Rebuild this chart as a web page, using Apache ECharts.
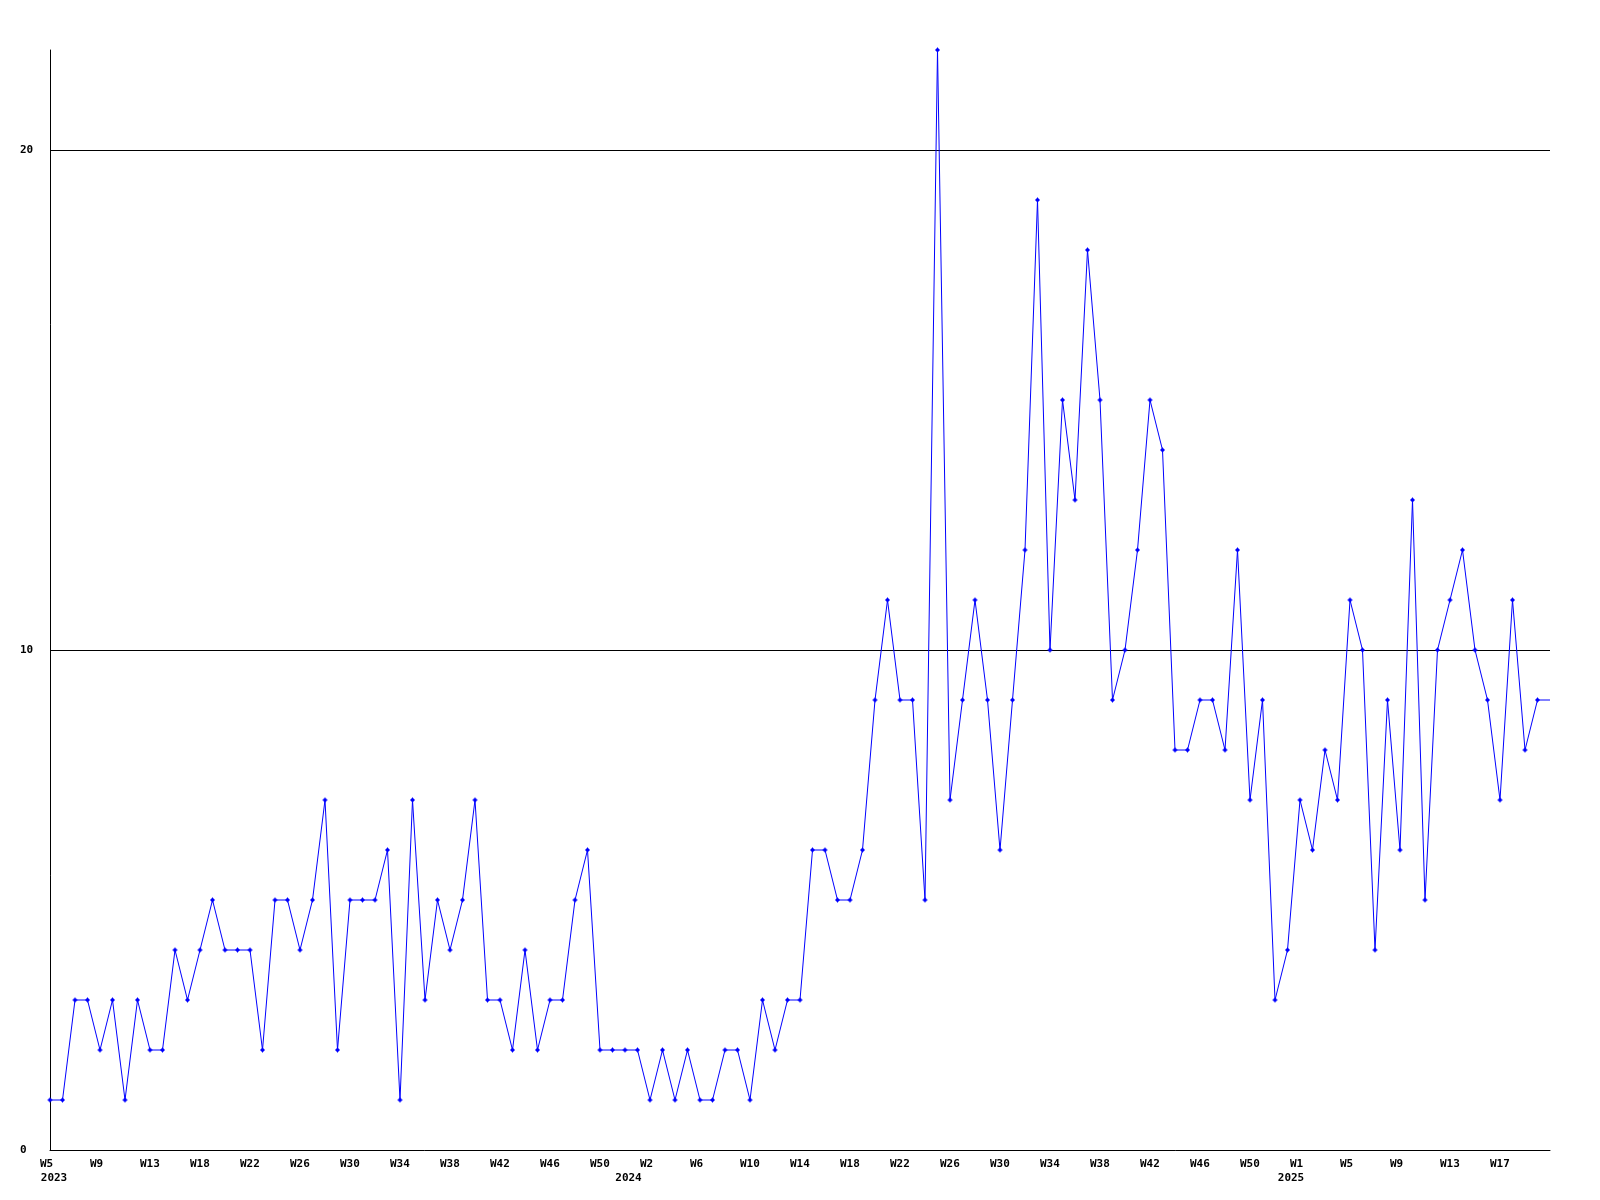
<!DOCTYPE html>
<html>
<head>
<meta charset="utf-8">
<script src="https://cdn.jsdelivr.net/npm/echarts@6/dist/echarts.min.js"></script>
<style>
  html, body { margin: 0; padding: 0; background: #ffffff; }
  #chart { width: 1600px; height: 1200px; }
</style>
</head>
<body>
<div id="chart"></div>
<script>
// Week labels (one week is absent in the 2023 sequence of the source)
const weeks2023 = ["W5","W6","W7","W8","W9","W10","W11","W12","W13","W14","W15","W16",
  "W18","W19","W20","W21","W22","W23","W24","W25","W26","W27","W28","W29","W30","W31","W32",
  "W33","W34","W35","W36","W37","W38","W39","W40","W41","W42","W43","W44","W45","W46","W47",
  "W48","W49","W50","W51","W52"];
const weeks2024 = ["W1","W2","W3","W4","W5","W6","W7","W8","W9","W10","W11","W12","W13","W14",
  "W15","W16","W17","W18","W19","W20","W21","W22","W23","W24","W25","W26","W27","W28","W29",
  "W30","W31","W32","W33","W34","W35","W36","W37","W38","W39","W40","W41","W42","W43","W44",
  "W45","W46","W47","W48","W49","W50","W51","W52","W53"];
const weeks2025 = ["W1","W2","W3","W4","W5","W6","W7","W8","W9","W10","W11","W12","W13","W14",
  "W15","W16","W17","W18","W19","W20","W21"];

// Weekly counts
const values2023 = [1,1,3,3,2,3,1,3,2,2, 4,3,4,5,4,4,4,2,5,5, 4,5,7,2,5,5,5,6,1,7,
  3,5,4,5,7,3,3,2,4,2, 3,3,5,6,2,2,2];
const values2024 = [2,1,2, 1,2,1,1,2,2,1,3,2,3, 3,6,6,5,5,6,9,11,9,9, 5,22,7,9,11,9,6,9,12,19,
  10,15,13,18,15,9,10,12,15,14, 8,8,9,9,8,12,7,9,3,4];
const values2025 = [7,6,8,7,11,10,4,9,6,13, 5,10,11,12,10,9,7,11,8,9, 9];

const yTicks = [0, 10, 20];
const yMax = 22;

const categories = []
  .concat(weeks2023.map(w => '2023|' + w))
  .concat(weeks2024.map(w => '2024|' + w))
  .concat(weeks2025.map(w => '2025|' + w));
const values = [].concat(values2023, values2024, values2025);
const lastIdx = values.length - 1;
const seriesData = values.map((v, i) => i === lastIdx ? { value: v, symbol: 'none' } : v);

const yearOf = (idx) => categories[idx].split('|')[0];
const isYearStart = (idx) => idx === 0 || yearOf(idx) !== yearOf(idx - 1);

const FONT = '"DejaVu Sans Mono", "Liberation Mono", monospace';
const chart = echarts.init(document.getElementById('chart'), null, { renderer: 'canvas' });

const baseLabel = {
  color: '#000000',
  fontFamily: FONT,
  fontWeight: 'bold',
  fontSize: 11,
  lineHeight: 14
};

chart.setOption({
  backgroundColor: '#ffffff',
  animation: false,
  grid: { left: 50, right: 50, top: 50, bottom: 50, containLabel: false },
  xAxis: [{
    type: 'category',
    data: categories,
    boundaryGap: false,
    axisLine: { show: true, lineStyle: { color: '#000000', width: 1 } },
    axisTick: { show: false },
    splitLine: { show: false },
    axisLabel: Object.assign({}, baseLabel, {
      interval: (idx) => idx % 4 === 0 && idx < categories.length - 1,
      margin: 7,
      align: 'left',
      padding: [0, 0, 0, -10],
      formatter: (value) => value.split('|')[1]
    })
  }, {
    type: 'category',
    data: categories,
    boundaryGap: false,
    position: 'bottom',
    axisLine: { show: false },
    axisTick: { show: false },
    splitLine: { show: false },
    axisLabel: Object.assign({}, baseLabel, {
      interval: (idx) => isYearStart(idx),
      margin: 21,
      align: 'center',
      formatter: (value, idx) => {
        const yr = value.split('|')[0];
        return idx === 0 ? '{first|' + yr + '}' : '{mid|' + yr + '}';
      },
      rich: {
        first: Object.assign({}, baseLabel, { padding: [0, 0, 0, 8] }),
        mid: Object.assign({}, baseLabel, { padding: [0, 18, 0, 0] })
      }
    })
  }],
  yAxis: {
    type: 'value',
    min: 0,
    max: yMax,
    interval: 10,
    axisLine: { show: true, lineStyle: { color: '#000000', width: 1 } },
    axisTick: { show: false },
    splitLine: { show: true, showMinLine: false, showMaxLine: false, lineStyle: { color: '#000000', width: 1 } },
    axisLabel: {
      margin: 30,
      align: 'left',
      color: '#000000',
      fontFamily: FONT,
      fontWeight: 'bold',
      fontSize: 11,
      formatter: (v) => yTicks.indexOf(v) >= 0 ? String(v) : ''
    }
  },
  series: [{
    type: 'line',
    xAxisIndex: 0,
    data: seriesData,
    showSymbol: true,
    showAllSymbol: true,
    symbol: 'path://M2,0H3V1H4V2H5V3H4V4H3V5H2V4H1V3H0V2H1V1H2Z',
    symbolSize: 5,
    lineStyle: { color: '#0000ff', width: 1 },
    itemStyle: { color: '#0000ff', borderWidth: 0 },
    silent: true
  }]
});
</script>
</body>
</html>
